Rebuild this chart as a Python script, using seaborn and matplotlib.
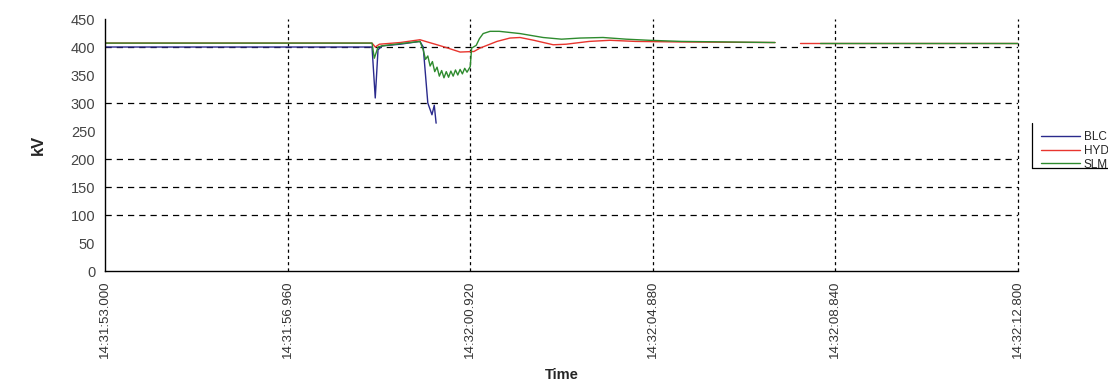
import numpy as np
import pandas as pd
import matplotlib
matplotlib.use("Agg")
import matplotlib.pyplot as plt
from matplotlib.lines import Line2D
import seaborn as sns

# ---- data (seconds after 14:31:53.000, kV) ----
blc_t = [0.0, 5.79, 5.86, 5.92, 6.01, 6.40, 6.83, 6.90, 7.00, 7.09, 7.14, 7.18]
blc_v = [400, 400, 309, 395, 402, 405, 410, 400, 300, 279, 296, 264]

hyd_t = [0.0, 5.79, 5.86, 5.95, 6.40, 6.83, 6.95, 7.20, 7.40, 7.70, 8.00, 8.13,
         8.50, 8.78, 9.00, 9.30, 9.72, 10.00, 10.50, 10.95, 11.50, 12.50, 14.53,
         14.54, 15.07, 19.80]
hyd_v = [407, 407, 400, 405, 408, 413, 410, 404, 399, 391, 392, 398,
         410, 416, 417, 412, 404, 405, 410, 412, 410, 409, 408,
         np.nan, 408, 408]

slm_t = [0.0, 5.79, 5.84, 5.92, 6.00, 6.40, 6.83, 6.90, 6.95, 7.00, 7.05, 7.10,
         7.15, 7.20, 7.25, 7.30, 7.35, 7.40, 7.45, 7.50, 7.55, 7.60, 7.65, 7.70,
         7.75, 7.80, 7.85, 7.92, 7.95, 8.05, 8.12, 8.20, 8.35, 8.55, 9.00, 9.50,
         9.90, 10.30, 10.80, 11.30, 11.80, 12.50, 14.53, 14.54, 15.50, 19.80]
slm_v = [407, 407, 380, 400, 402, 406, 410, 395, 378, 384, 366, 374,
         356, 364, 348, 358, 345, 356, 346, 357, 348, 359, 350, 360,
         352, 362, 355, 365, 398, 403, 415, 424, 428, 428, 424, 417,
         414, 416, 417, 414, 412, 410, 408, np.nan, 408, 408]

series_names = ["BLC", "HYD", "SLM"]
series_colors = ["#2a2a8c", "#e8352e", "#2e8b2e"]
xtick_labels = ["14:31:53.000", "14:31:56.960", "14:32:00.920",
                "14:32:04.880", "14:32:08.840", "14:32:12.800"]
ytick_values = [0, 50, 100, 150, 200, 250, 300, 350, 400, 450]
hgrid_values = [100, 150, 200, 300, 400]

def to_frame(name, t, v):
    df = pd.DataFrame({"t": t, "kV": v})
    df["seg"] = df["kV"].isna().cumsum()
    df = df.dropna()
    df["series"] = name
    df["unit"] = name + "_" + df["seg"].astype(str)
    return df

data = pd.concat([to_frame("BLC", blc_t, blc_v),
                  to_frame("HYD", hyd_t, hyd_v),
                  to_frame("SLM", slm_t, slm_v)], ignore_index=True)

sns.set_style("white")
plt.rcParams["font.family"] = ["Liberation Sans", "DejaVu Sans"]

fig = plt.figure(figsize=(11.08, 3.88), dpi=100)
ax = fig.add_axes([0.0948, 0.3015, 0.8240, 0.6495])

sns.lineplot(data=data, x="t", y="kV", hue="series", units="unit",
             estimator=None, sort=False, palette=dict(zip(series_names, series_colors)),
             hue_order=series_names, linewidth=1.0, legend=False, ax=ax)

xticks = np.arange(6) * 3.96
ax.set_xlim(0, 19.8)
ax.set_ylim(0, 450)
ax.set_xticks(xticks)
ax.set_xticklabels(xtick_labels, rotation=90, fontsize=9.5, color="#333333")
ax.set_yticks(ytick_values)
ax.set_yticklabels([str(v) for v in ytick_values], fontsize=10.5, color="#444444")
ax.tick_params(axis="both", direction="inout", length=8, width=1, color="black", pad=3)

for y in hgrid_values:
    ax.axhline(y, color="black", lw=0.9, ls=(0, (5, 4)), zorder=0)
for x in xticks[1:]:
    ax.axvline(x, color="black", lw=0.9, ls=(0, (2.5, 2.5)), zorder=0, clip_on=False)

for s in ["top", "right"]:
    ax.spines[s].set_visible(False)
for s in ["left", "bottom"]:
    ax.spines[s].set_color("black")
    ax.spines[s].set_linewidth(1.0)

ax.set_ylabel("kV", fontsize=12, fontweight="bold", labelpad=18)
ax.set_xlabel("Time", fontsize=10.5, fontweight="bold")
ax.xaxis.set_label_coords(0.5, -0.385)
ax.xaxis.label.set_verticalalignment("top")

handles = [Line2D([0], [0], color=c, lw=1.0) for c in series_colors]
leg = fig.legend(handles, series_names, loc="upper left",
                 bbox_to_anchor=(1034 / 1108, 1 - 124 / 388), frameon=False,
                 fontsize=8.5, handlelength=3.3, handletextpad=0.3,
                 labelspacing=0.15, borderpad=0.1)
fig.add_artist(Line2D([1032 / 1108, 1032 / 1108], [1 - 123 / 388, 1 - 168 / 388],
                      transform=fig.transFigure, color="black", lw=0.9))
fig.add_artist(Line2D([1032 / 1108, 1.0], [1 - 168 / 388, 1 - 168 / 388],
                      transform=fig.transFigure, color="black", lw=0.9))

fig.savefig("out.png", dpi=100)
